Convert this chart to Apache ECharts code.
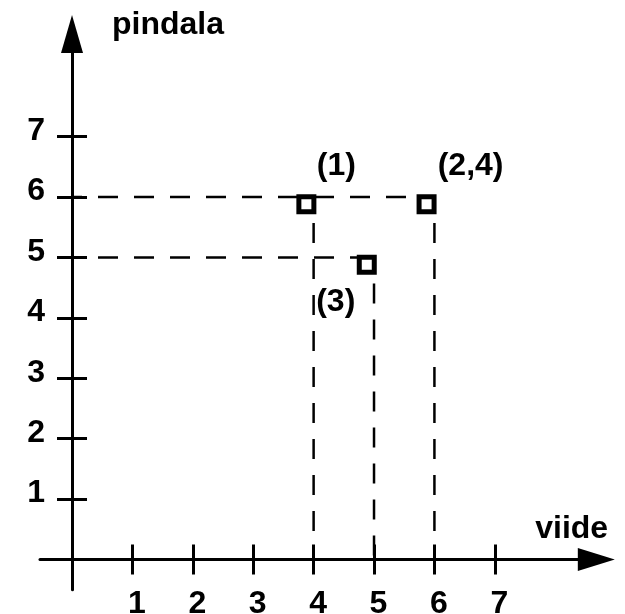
<!DOCTYPE html>
<html>
<head>
<meta charset="utf-8">
<script src="https://cdn.jsdelivr.net/npm/echarts@6/dist/echarts.min.js"></script>
<style>
  html, body { margin: 0; padding: 0; background: #fff; }
  #chart { width: 625px; height: 614px; }
</style>
</head>
<body>
<div id="chart"></div>
<script>
// ---- data ----
const xName = 'viide';
const yName = 'pindala';
const xTickValues = [1, 2, 3, 4, 5, 6, 7];
const yTickValues = [1, 2, 3, 4, 5, 6, 7];
const pointNames = ['(1)', '(2,4)', '(3)'];
const pointX = [3.88, 5.87, 4.88];
const pointY = [5.88, 5.88, 4.88];
// dashed guide lines
const hGuideY = [6, 5];       // horizontal guides at these y values
const hGuideXEnd = [6, 5];    // ...running from x = 0 to these x values
const vGuideX = [4, 5, 6];    // vertical guides at these x values
const vGuideYTop = [6, 5, 6]; // ...running from these y values down to y = 0

// ---- styles ----
const labelOffsets = [[30, -38], [44, -38], [-31, 37]];
const FONT = "'Liberation Sans', Arial, Helvetica, sans-serif";
const FS = 32;
const X_MIN = -0.53, X_MAX = 8.68, Y_MIN = -0.5, Y_MAX = 8.7;

const guideStyle = { color: '#000', width: 2.5, type: [20, 16], dashOffset: 10 };
const series = [];
hGuideY.forEach((y, i) => {
  series.push({
    type: 'line', silent: true, symbol: 'none', z: 1,
    lineStyle: guideStyle,
    data: [[0, y], [hGuideXEnd[i], y]]
  });
});
vGuideX.forEach((x, i) => {
  series.push({
    type: 'line', silent: true, symbol: 'none', z: 1,
    lineStyle: guideStyle,
    data: [[x, vGuideYTop[i]], [x, 0]]
  });
});
series.push({
  type: 'scatter', z: 5,
  symbol: 'rect', symbolSize: 15,
  itemStyle: { color: '#fff', borderColor: '#000', borderWidth: 5, opacity: 1 },
  data: pointX.map((x, i) => ({
    name: pointNames[i],
    value: [x, pointY[i]],
    label: { offset: labelOffsets[i] }
  })),
  label: {
    show: true, position: 'inside', formatter: '{b}',
    fontFamily: FONT, fontWeight: 'bold', fontSize: FS, color: '#000'
  }
});

const tickLine = { color: '#000', width: 3 };
const labelStyle = { fontFamily: FONT, fontWeight: 'bold', fontSize: FS, color: '#000' };

const option = {
  animation: false,
  backgroundColor: '#fff',
  grid: { left: 40, right: 28.7, top: 34, bottom: 24.3, containLabel: false, outerBoundsMode: 'none' },
  xAxis: [
    {
      type: 'value', min: X_MIN, max: X_MAX, position: 'bottom',
      name: xName, nameLocation: 'end', nameGap: -24.6,
      nameTextStyle: Object.assign({}, labelStyle, { align: 'center', verticalAlign: 'bottom', padding: [0, 0, 14, 0] }),
      axisLine: { show: true, onZero: true, onZeroAxisIndex: 0, symbol: ['none', 'triangle'], symbolSize: [23, 37], lineStyle: tickLine },
      axisTick: { show: true, inside: false, length: 15, lineStyle: tickLine, customValues: xTickValues },
      axisLabel: Object.assign({ show: true, margin: -2, padding: [0, 0, 0, 9], customValues: xTickValues }, labelStyle),
      splitLine: { show: false }
    },
    {
      type: 'value', min: X_MIN, max: X_MAX, position: 'bottom',
      axisLine: { show: false, onZero: true, onZeroAxisIndex: 0 },
      axisTick: { show: true, inside: true, length: 15, lineStyle: tickLine, customValues: xTickValues },
      axisLabel: { show: false },
      splitLine: { show: false }
    }
  ],
  yAxis: [
    {
      type: 'value', min: Y_MIN, max: Y_MAX, position: 'left',
      name: yName, nameLocation: 'end', nameGap: 9,
      nameTextStyle: Object.assign({}, labelStyle, { align: 'left', verticalAlign: 'middle', padding: [0, 0, 0, 40] }),
      axisLine: { show: true, onZero: true, onZeroAxisIndex: 0, symbol: ['none', 'triangle'], symbolSize: [22, 38], lineStyle: tickLine },
      axisTick: { show: true, inside: false, length: 15, lineStyle: tickLine, customValues: yTickValues },
      axisLabel: Object.assign({ show: true, margin: -5, verticalAlign: 'bottom', lineHeight: 11, customValues: yTickValues }, labelStyle),
      splitLine: { show: false }
    },
    {
      type: 'value', min: Y_MIN, max: Y_MAX, position: 'left',
      axisLine: { show: false, onZero: true, onZeroAxisIndex: 0 },
      axisTick: { show: true, inside: true, length: 15, lineStyle: tickLine, customValues: yTickValues },
      axisLabel: { show: false },
      splitLine: { show: false }
    }
  ],
  series: series
};

const chart = echarts.init(document.getElementById('chart'), null, { renderer: 'canvas' });
chart.setOption(option);
</script>
</body>
</html>
